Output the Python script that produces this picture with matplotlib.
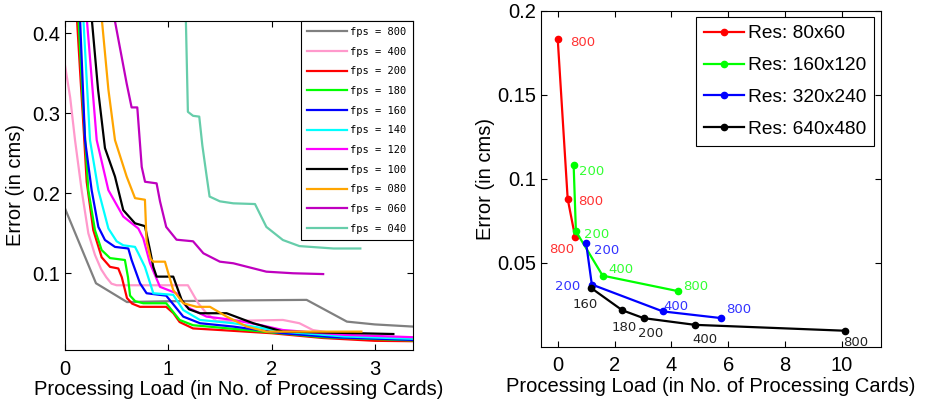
import matplotlib
matplotlib.use('Agg')
import matplotlib.pyplot as plt

plt.rcParams['font.family'] = ['Liberation Sans', 'DejaVu Sans']

# ---- left panel: error vs processing load, one curve per frame rate ----
fps_labels = ['fps = 800', 'fps = 400', 'fps = 200', 'fps = 180', 'fps = 160', 'fps = 140',
              'fps = 120', 'fps = 100', 'fps = 080', 'fps = 060', 'fps = 040']
fps_colors = ['#808080', '#ff99cc', '#ff0000', '#00ff00', '#0000ff', '#00ffff',
              '#ff00ff', '#000000', '#ffa500', '#bf00bf', '#66cdaa']

x800 = [0, 0.30, 0.60, 1.0, 1.6, 2.34, 2.73, 3.0, 3.37]
y800 = [0.181, 0.0875, 0.064, 0.065, 0.066, 0.0667, 0.0395, 0.036, 0.0333]

x400 = [0, 0.05, 0.097, 0.161, 0.226, 0.29, 0.35, 0.40, 0.45, 0.50, 1.19, 1.29, 1.37, 1.47,
        2.11, 2.27, 2.40, 2.55]
y400 = [0.36, 0.32, 0.2666, 0.204, 0.15, 0.123, 0.105, 0.095, 0.087, 0.085, 0.085, 0.0625,
        0.05, 0.04, 0.0416, 0.0375, 0.029, 0.026]

x200 = [0.115, 0.152, 0.184, 0.21, 0.274, 0.355, 0.436, 0.516, 0.55, 0.6, 0.65, 0.726, 0.98,
        1.05, 1.11, 1.24, 1.5, 2.0, 2.5, 3.0, 3.37]
y200 = [0.42, 0.34, 0.273, 0.2145, 0.154, 0.12, 0.108, 0.106, 0.095, 0.069, 0.062, 0.058,
        0.058, 0.05, 0.039, 0.031, 0.029, 0.025, 0.019, 0.0155, 0.015]

x180 = [0.13, 0.17, 0.226, 0.29, 0.355, 0.436, 0.58, 0.61, 0.63, 0.68, 0.758, 0.98, 1.11,
        1.24, 1.5, 2.0, 2.5, 3.37]
y180 = [0.42, 0.32, 0.204, 0.154, 0.129, 0.119, 0.1166, 0.095, 0.072, 0.065, 0.0625, 0.0625,
        0.0416, 0.035, 0.032, 0.026, 0.02, 0.016]

x160 = [0.145, 0.194, 0.258, 0.323, 0.387, 0.484, 0.613, 0.645, 0.726, 0.79, 0.98, 1.145,
        1.307, 1.63, 2.11, 2.6, 3.37]
y160 = [0.42, 0.2666, 0.204, 0.158, 0.1416, 0.133, 0.131, 0.1166, 0.0875, 0.075, 0.072,
        0.0458, 0.0375, 0.0333, 0.025, 0.02, 0.0166]

x140 = [0.177, 0.242, 0.323, 0.42, 0.50, 0.564, 0.678, 0.71, 0.774, 0.855, 1.048, 1.145,
        1.307, 1.63, 2.11, 2.7, 3.37]
y140 = [0.42, 0.2666, 0.204, 0.156, 0.14, 0.135, 0.133, 0.125, 0.108, 0.075, 0.073, 0.054,
        0.0416, 0.0375, 0.027, 0.021, 0.018]

x120 = [0.21, 0.307, 0.42, 0.564, 0.71, 0.758, 0.823, 0.92, 1.08, 1.178, 1.37, 1.63, 1.887,
        2.11, 2.7, 3.37]
y120 = [0.42, 0.2666, 0.204, 0.171, 0.156, 0.1437, 0.1125, 0.083, 0.075, 0.058, 0.0458,
        0.0416, 0.0354, 0.029, 0.023, 0.02]

x100 = [0.258, 0.32, 0.387, 0.484, 0.564, 0.678, 0.774, 0.823, 0.855, 0.887, 1.048, 1.13,
        1.2, 1.307, 1.565, 1.823, 2.11, 3.18]
y100 = [0.42, 0.33, 0.2566, 0.221, 0.179, 0.1625, 0.159, 0.129, 0.108, 0.0958, 0.0958,
        0.0666, 0.055, 0.05, 0.05, 0.0375, 0.027, 0.024]

x080 = [0.355, 0.42, 0.484, 0.597, 0.678, 0.774, 0.79, 0.83, 0.855, 0.968, 1.048, 1.145,
        1.275, 1.404, 1.565, 1.76, 1.95, 2.87]
y080 = [0.42, 0.33, 0.2666, 0.221, 0.194, 0.192, 0.14, 0.118, 0.1145, 0.1145, 0.079, 0.0625,
        0.058, 0.058, 0.0458, 0.0333, 0.027, 0.027]

x060 = [0.477, 0.597, 0.645, 0.70, 0.743, 0.775, 0.887, 0.92, 0.98, 1.08, 1.24, 1.34, 1.5,
        1.63, 1.95, 2.21, 2.5]
y060 = [0.42, 0.3375, 0.3075, 0.3075, 0.233, 0.2145, 0.2125, 0.19, 0.158, 0.142, 0.14,
        0.125, 0.1145, 0.1125, 0.102, 0.1, 0.099]

x040 = [1.17, 1.19, 1.24, 1.30, 1.33, 1.37, 1.40, 1.5, 1.63, 1.84, 1.95, 2.11, 2.27, 2.6, 2.86]
y040 = [0.42, 0.302, 0.297, 0.296, 0.26, 0.223, 0.196, 0.19, 0.1875, 0.1866, 0.158, 0.1416,
        0.134, 0.131, 0.131]

fps_x = [x800, x400, x200, x180, x160, x140, x120, x100, x080, x060, x040]
fps_y = [y800, y400, y200, y180, y160, y140, y120, y100, y080, y060, y040]

# ---- right panel: error vs load per resolution, points labelled by fps ----
res_labels = ['Res: 80x60', 'Res: 160x120', 'Res: 320x240', 'Res: 640x480']
res_colors = ['#ff0000', '#00ff00', '#0000ff', '#000000']
text_colors = ['#ff3333', '#33ff33', '#3333ff', '#222222']

r80_x = [0, 0.35, 0.61]
r80_y = [0.183, 0.088, 0.0655]
r80_t = ['800', '800', '800']
r80_tx = [0.43, 0.73, -0.3]
r80_ty = [0.181, 0.0865, 0.058]

r160_x = [0.56, 0.64, 1.58, 4.25]
r160_y = [0.108, 0.0687, 0.0423, 0.033]
r160_t = ['200', '200', '400', '800']
r160_tx = [0.76, 0.94, 1.78, 4.4]
r160_ty = [0.1044, 0.067, 0.0458, 0.036]

r320_x = [1.0, 1.2, 3.7, 5.76]
r320_y = [0.0615, 0.037, 0.021, 0.017]
r320_t = ['200', '200', '400', '800']
r320_tx = [1.29, -0.1, 3.72, 5.93]
r320_ty = [0.0571, 0.036, 0.024, 0.0224]

r640_x = [1.17, 2.27, 3.02, 4.83, 10.1]
r640_y = [0.035, 0.0217, 0.017, 0.013, 0.0095]
r640_t = ['160', '180', '200', '400', '800']
r640_tx = [0.53, 1.88, 2.84, 4.75, 10.06]
r640_ty = [0.025, 0.0116, 0.0076, 0.0042, 0.0026]

res_x = [r80_x, r160_x, r320_x, r640_x]
res_y = [r80_y, r160_y, r320_y, r640_y]
res_t = [r80_t, r160_t, r320_t, r640_t]
res_tx = [r80_tx, r160_tx, r320_tx, r640_tx]
res_ty = [r80_ty, r160_ty, r320_ty, r640_ty]

fig = plt.figure(figsize=(9.26, 4.05), dpi=100)
ax1 = fig.add_axes([0.0702, 0.1358, 0.3758, 0.8131])
ax2 = fig.add_axes([0.5839, 0.1440, 0.3672, 0.8296])

for xs, ys, c, lab in zip(fps_x, fps_y, fps_colors, fps_labels):
    ax1.plot(xs, ys, color=c, lw=1.6, label=lab)

ax1.set_xlim(0, 3.37)
ax1.set_ylim(0.004, 0.416)
ax1.set_xticks([0, 1, 2, 3])
ax1.set_yticks([0.1, 0.2, 0.3, 0.4])
ax1.set_yticklabels(['0.1', '0.2', '0.3', '0.4'])
ax1.set_xlabel('Processing Load (in No. of Processing Cards)', fontsize=14.5, labelpad=1)
ax1.set_ylabel('Error (in cms)', fontsize=14.5, labelpad=5)
leg1 = ax1.legend(loc='upper right', borderaxespad=0, prop={'family': 'DejaVu Sans Mono', 'size': 7.5},
                  handlelength=3.8, handletextpad=0.35, labelspacing=0.93, fancybox=False,
                  framealpha=1, edgecolor='black', borderpad=0.6)
leg1.get_frame().set_linewidth(0.8)

for xs, ys, c, lab in zip(res_x, res_y, res_colors, res_labels):
    ax2.plot(xs, ys, color=c, lw=1.6, marker='o', ms=4.5, label=lab)
for txt, tx, ty, c in zip(res_t, res_tx, res_ty, text_colors):
    for s, xx, yy in zip(txt, tx, ty):
        ax2.text(xx, yy, s, color=c, fontsize=9.5, family='DejaVu Sans', ha='left', va='center')

ax2.set_xlim(-0.6, 11.37)
ax2.set_ylim(0, 0.2)
ax2.set_xticks([0, 2, 4, 6, 8, 10])
ax2.set_yticks([0.05, 0.1, 0.15, 0.2])
ax2.set_yticklabels(['0.05', '0.1', '0.15', '0.2'])
ax2.set_xlabel('Processing Load (in No. of Processing Cards)', fontsize=14.5, labelpad=1)
ax2.set_ylabel('Error (in cms)', fontsize=14.5, labelpad=1)
leg2 = ax2.legend(loc='upper right', borderaxespad=0.35, fontsize=13.8, handlelength=2.1,
                  handletextpad=0.2, labelspacing=0.75, fancybox=False, framealpha=1,
                  edgecolor='black')
leg2.get_frame().set_linewidth(0.8)

for ax in (ax1, ax2):
    ax.tick_params(direction='in', top=True, right=True, labelsize=14.5, length=4)
    ax.tick_params(axis='x', pad=7)
    ax.tick_params(axis='y', pad=3.5)
    for sp in ax.spines.values():
        sp.set_linewidth(0.8)

fig.savefig('out.png', dpi=100)
